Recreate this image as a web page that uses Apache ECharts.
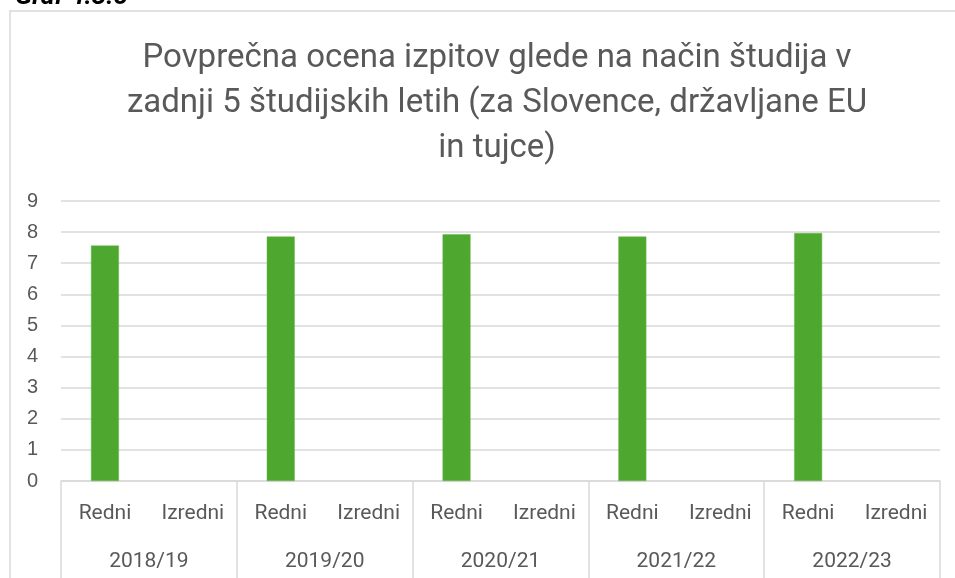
<!DOCTYPE html>
<html>
<head>
<meta charset="utf-8">
<script src="https://cdn.jsdelivr.net/npm/echarts@6/dist/echarts.min.js"></script>
<style>html,body{margin:0;padding:0;background:#fff;}#c{width:955px;height:578px;}</style>
</head>
<body>
<div id="c"></div>
<script>
const years = ['2018/19', '2019/20', '2020/21', '2021/22', '2022/23'];
const types = ['Redni', 'Izredni'];
const redni = [7.57, 7.86, 7.93, 7.86, 7.97];
const izredni = [null, null, null, null, null];
const yTicks = [0, 9, 1];

const cats = [];
const vals = [];
years.forEach((y, i) => {
  cats.push(types[0]); vals.push(redni[i]);
  cats.push(types[1]); vals.push(izredni[i]);
});

const chart = echarts.init(document.getElementById('c'));
const gray = '#595959';
const lineC = '#d9d9d9';
chart.setOption({
  animation: false,
  backgroundColor: '#fff',
  title: [{
    text: 'Povprečna ocena izpitov glede na način študija v\nzadnji 5 študijskih letih (za Slovence, državljane EU\nin tujce)',
    left: 497, top: 36, textAlign: 'center', padding: 0,
    textStyle: { fontFamily: 'Roboto', fontWeight: 'normal', fontSize: 33, color: gray, lineHeight: 45 }
  }, {
    text: 'Graf 4.3.5',
    left: 15, top: -16, padding: 0,
    textStyle: { fontFamily: 'Roboto', fontStyle: 'italic', fontWeight: 'bold', fontSize: 26, lineHeight: 26, color: '#000' }
  }],
  graphic: [
    { type: 'rect', shape: { x: 10, y: 11, width: 1000, height: 1000 }, style: { fill: 'none', stroke: lineC, lineWidth: 1.5 } }
  ],
  grid: { left: 61, right: 15, top: 201, bottom: 97, containLabel: false },
  xAxis: [
    {
      type: 'category', data: cats,
      axisLine: { lineStyle: { color: lineC, width: 1.5 } },
      axisTick: { show: false },
      axisLabel: { margin: 22, fontSize: 21, fontFamily: 'Roboto', color: gray, interval: 0 }
    },
    {
      type: 'category', data: years, position: 'bottom',
      axisLine: { show: false },
      axisTick: { show: true, length: 100, interval: 0, lineStyle: { color: lineC, width: 1.5 } },
      axisLabel: { margin: 70, fontSize: 21, fontFamily: 'Roboto', color: gray, interval: 0 }
    }
  ],
  yAxis: {
    type: 'value', min: yTicks[0], max: yTicks[1], interval: yTicks[2],
    axisLine: { show: false }, axisTick: { show: false },
    splitLine: { lineStyle: { color: lineC, width: 1.5 } },
    axisLabel: { margin: 23, fontSize: 20, fontFamily: 'Liberation Sans', color: gray }
  },
  series: [{
    type: 'bar', data: vals, barWidth: 28, xAxisIndex: 0,
    itemStyle: { color: '#4ea72e', borderColor: '#6cbb4e', borderWidth: 0.5 }
  }]
});
</script>
</body>
</html>
